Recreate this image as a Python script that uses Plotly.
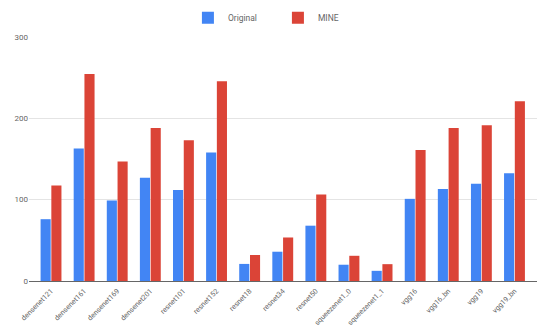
import plotly.graph_objects as go

categories = ["densenet121", "densenet161", "densenet169", "densenet201", "resnet101",
              "resnet152", "resnet18", "resnet34", "resnet50", "squeezenet1_0",
              "squeezenet1_1", "vgg16", "vgg16_bn", "vgg19", "vgg19_bn"]
original = [76, 163, 99, 127, 112, 158, 21, 36, 68, 20, 12.5, 101, 113, 119.5, 132.5]
mine = [117.5, 254.5, 147, 188, 173, 245.5, 32, 53.5, 106.5, 31, 20.7, 161, 188, 191.5, 221]
y_ticks = [0, 100, 200, 300]

BLUE = "#4285F4"
RED = "#DB4437"
FONT = "Roboto"

fig = go.Figure()
fig.add_trace(go.Bar(name="Original", x=categories, y=original, marker_color=BLUE,
                     marker_line_width=0))
fig.add_trace(go.Bar(name="MINE", x=categories, y=mine, marker_color=RED,
                     marker_line_width=0))

fig.update_layout(
    width=540, height=329,
    margin=dict(l=29, r=3, t=35, b=48),
    paper_bgcolor="white", plot_bgcolor="white",
    barmode="group", bargap=0.35, bargroupgap=0.06,
    font=dict(family=FONT, size=8, color="#666666"),
    showlegend=True,
    legend=dict(orientation="h", x=0.49, xanchor="center", y=1.079, yanchor="middle",
                font=dict(family=FONT, size=8.5, color="#666666"),
                itemwidth=30, entrywidth=45, bgcolor="rgba(0,0,0,0)"),
    xaxis=dict(type="category", range=[-0.665, 14.68], tickangle=-45,
               tickfont=dict(family=FONT, size=7.2, color="#666666"),
               showgrid=False, showline=True, linecolor="#666666", linewidth=1,
               ticks="outside", ticklen=2, tickcolor="rgba(0,0,0,0)",
               automargin=False, fixedrange=True),
    yaxis=dict(range=[0, 300], tickvals=y_ticks, ticktext=[str(v) for v in y_ticks],
               showgrid=True, gridcolor="#e4e4e4", gridwidth=1,
               zeroline=False, showline=False, ticks="",
               automargin=False,
               tickfont=dict(family=FONT, size=8, color="#666666"), fixedrange=True),
)

fig.write_html("out.html")
